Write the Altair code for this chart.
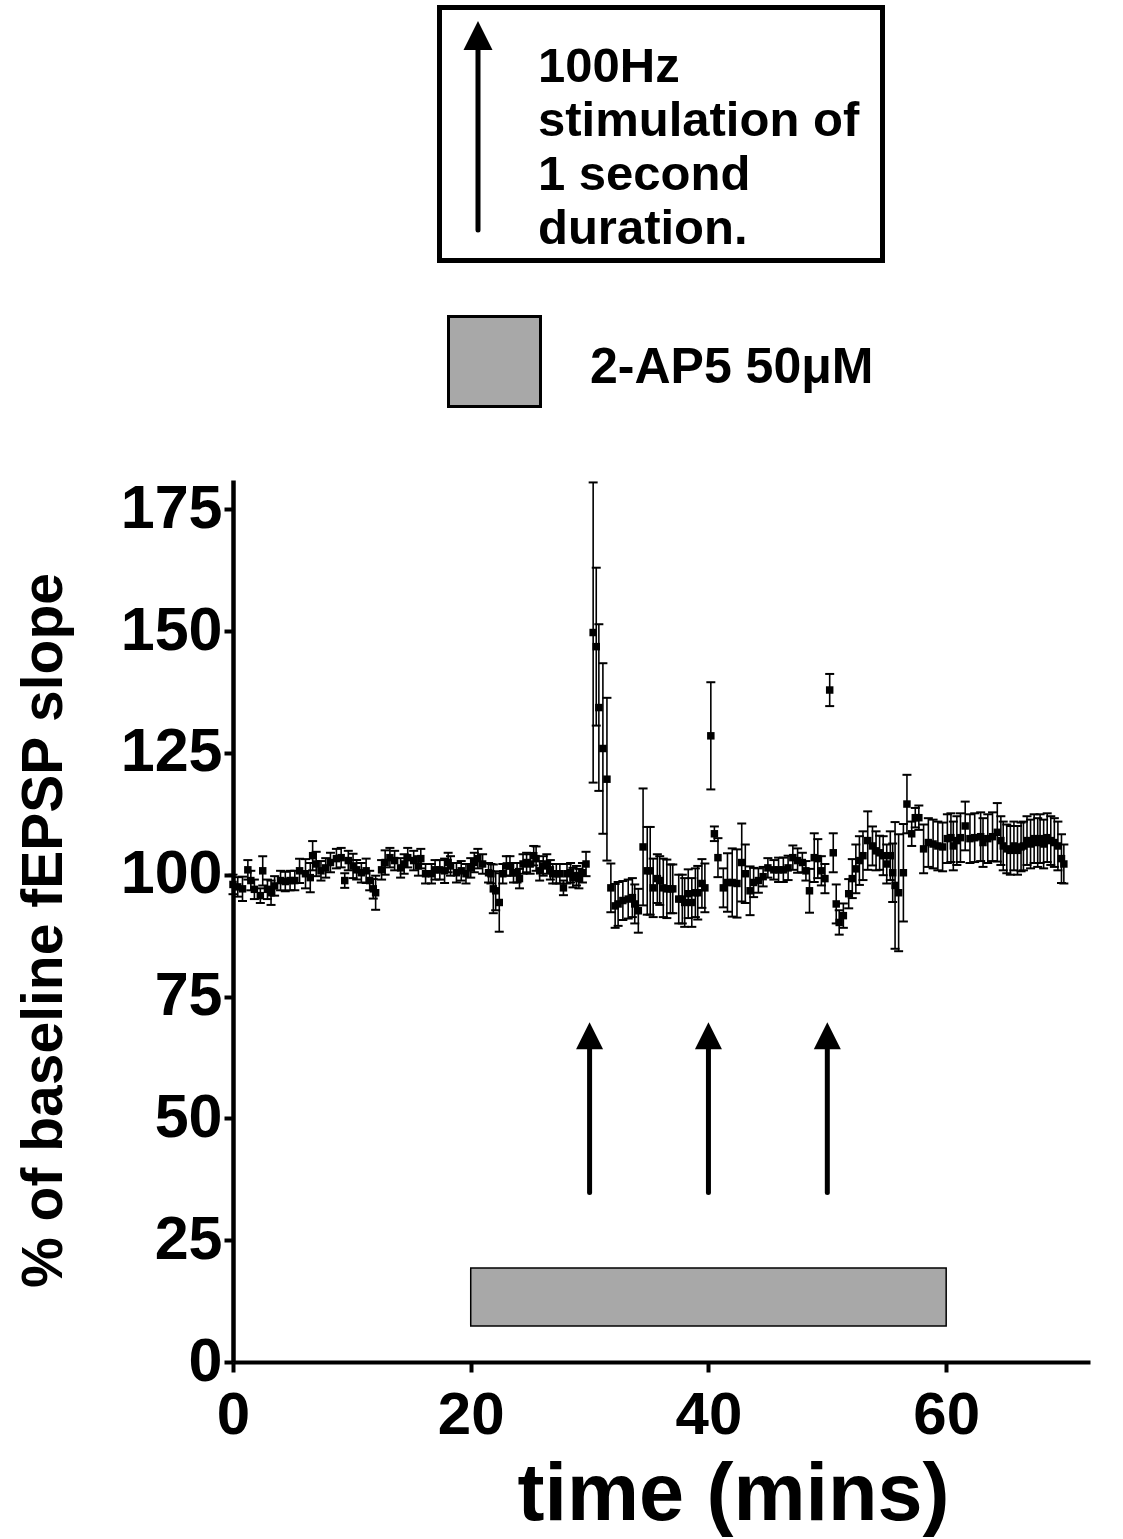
import altair as alt
import pandas as pd

# ---- data (time in min, % of baseline, SEM) ----
time_min = [
    0.0, 0.4, 0.8, 1.25, 1.5, 1.8, 2.3, 2.5, 2.9, 3.2, 3.5, 4.0, 4.4, 4.8, 5.2, 5.6, 6.1, 6.5, 6.7, 7.0, 7.4, 7.8, 8.2, 8.7, 9.1, 9.4, 9.7,
    10.1, 10.4, 10.8, 11.2, 11.5, 11.8, 12.0, 12.5, 12.8, 13.2, 13.6, 14.1, 14.4, 14.7, 15.2, 15.6, 15.8, 16.2, 16.7, 17.0, 17.4, 17.8, 18.1, 18.3, 18.8, 19.2, 19.6,
    20.0, 20.3, 20.6, 21.0, 21.5, 21.7, 21.9, 22.1, 22.4, 22.7, 23.0, 23.3, 23.6, 23.9, 24.1, 24.4, 24.7, 25.0, 25.3, 25.5, 25.8, 26.1, 26.4, 26.7, 26.9, 27.2, 27.5, 27.8, 28.1, 28.4, 28.6, 28.9, 29.1, 29.4, 29.7,
    30.3, 30.56, 30.78, 31.12, 31.46, 31.79, 32.15, 32.4, 32.8, 33.25, 33.6, 33.8, 34.1, 34.5, 34.85, 35.1, 35.35, 35.7, 35.9, 36.2, 36.5, 36.8, 37.0, 37.5, 37.8, 38.0, 38.3, 38.6, 38.9, 39.1, 39.45, 39.7,
    40.2, 40.5, 40.8, 41.25, 41.6, 42.0, 42.4, 42.8, 43.1, 43.5, 43.8, 44.2, 44.6, 45.0, 45.5, 45.9, 46.3, 46.7, 47.1, 47.5, 47.9, 48.2, 48.5, 48.9, 49.2, 49.5, 49.8,
    50.2, 50.5, 50.75, 51.0, 51.35, 51.8, 52.1, 52.4, 52.7, 53.0, 53.4, 53.8, 54.1, 54.4, 54.7, 55.0, 55.3, 55.5, 55.7, 56.0, 56.4, 56.7,
    57.1, 57.4, 57.7, 58.1, 58.5, 58.9, 59.3, 59.7,
    60.1, 60.4, 60.6, 60.9, 61.2, 61.6, 62.0, 62.4, 62.9,
    63.1, 63.5, 63.9, 64.3, 64.6, 64.8,
    65.1, 65.4, 65.7, 66.0, 66.3, 66.5, 66.8,
    67.1, 67.4, 67.7, 67.9, 68.2, 68.5, 68.8,
    69.1, 69.4, 69.7, 69.9,
]
slope_pct = [
    98.0, 97.5, 97.1, 101.0, 98.8, 97.0, 95.7, 100.8, 97.0, 96.3, 97.7, 98.8, 98.6, 98.8, 98.8, 100.8, 100.2, 99.4, 103.9, 102.2, 100.8, 101.4, 102.5, 103.3, 103.5, 98.8, 102.9,
    101.8, 101.0, 100.4, 100.8, 98.8, 97.1, 96.3, 101.0, 102.5, 103.5, 102.9, 101.4, 102.2, 103.5, 102.9, 101.8, 103.3, 100.2, 100.2, 101.0, 101.0, 100.8, 102.5, 101.8, 100.4, 100.8, 100.2,
    101.4, 102.5, 103.3, 102.2, 100.4, 100.2, 97.1, 96.7, 94.3, 100.2, 101.8, 101.8, 100.4, 100.4, 99.2, 102.2, 102.5, 102.2, 103.9, 103.3, 100.8, 101.8, 102.2, 101.0, 100.2, 100.2, 100.2, 97.3, 100.2, 100.4, 99.4, 99.8, 99.2, 100.4, 102.2,
    149.7, 146.8, 134.3, 125.9, 119.6, 97.3, 93.6, 94.0, 94.7, 95.0, 95.3, 94.0, 92.6, 105.7, 100.8, 100.8, 97.3, 99.2, 98.8, 97.3, 97.1, 97.1, 97.1, 95.0, 95.0, 94.3, 96.1, 94.3, 96.3, 96.3, 98.2, 97.3,
    128.5, 108.4, 103.5, 97.3, 98.4, 98.4, 98.2, 102.5, 100.2, 96.7, 98.4, 98.8, 99.6, 101.4, 101.0, 101.0, 101.0, 101.4, 103.5, 102.9, 102.5, 100.8, 96.7, 103.5, 103.3, 100.8, 99.2,
    137.9, 104.5, 94.0, 90.2, 91.6, 96.1, 99.2, 101.2, 102.9, 103.9, 107.0, 105.9, 104.9, 104.5, 103.9, 102.2, 103.9, 100.4, 97.8, 96.3, 100.4, 114.5,
    108.4, 111.7, 111.7, 105.3, 106.6, 106.3, 105.9, 105.7,
    107.4, 107.6, 105.9, 107.0, 107.6, 110.0, 107.4, 107.6, 107.8,
    106.6, 107.4, 107.8, 108.7, 107.0, 105.9,
    105.3, 105.0, 105.9, 105.0, 105.7, 105.9, 107.0,
    106.3, 107.4, 106.6, 107.4, 106.3, 107.6, 107.0,
    106.6, 105.9, 103.3, 102.2,
]
sem_pct = [
    2, 2, 2.5, 2, 2, 2, 1.5, 3, 2, 2.5, 2, 2, 2, 2, 2, 2.5, 3, 3, 3, 2.5, 2, 2, 2, 2, 2, 1.5, 2,
    2.5, 2, 2, 2.5, 2, 2, 3.5, 2, 2.5, 2, 2, 2, 2, 2, 2, 2, 2, 2, 2, 2, 2, 2.5, 2, 2, 2, 2, 2,
    2, 2, 2, 2, 2, 2, 5, 4, 6, 2, 2, 2, 2, 2, 2, 2, 2, 2, 2, 2.5, 2, 2, 2, 2, 2, 2, 2, 1.5, 2, 2, 2, 2, 2, 2, 2.5,
    30.8, 16.2, 17.1, 17.5, 16.7, 5, 4.5, 4.5, 4, 4, 4, 4, 4.5, 12, 9, 9, 6, 5, 5, 6, 6, 5, 5, 5, 5, 5, 5, 5, 5, 5.5, 5, 5,
    11, 1.5, 4, 4, 6, 7, 7, 8, 6, 5, 3, 2.5, 2, 2, 2, 2.5, 2.5, 2.5, 2.5, 2.5, 2, 2, 4.5, 5, 4, 3, 3,
    3.3, 4, 4, 2.5, 2.5, 3, 4, 5, 5, 5, 6, 4, 4, 3.5, 4, 4, 5, 6, 13, 12, 10, 6,
    2.5, 2, 2.5, 5, 5, 5, 5, 5,
    5, 5, 5, 5, 5, 5, 5, 5, 5,
    5, 5, 5, 6, 5, 5,
    5, 5, 5, 5, 5, 5, 5,
    5, 5, 5, 5, 5, 5, 5,
    5, 5, 5, 4,
]
assert len(time_min) == len(slope_pct) == len(sem_pct)

stim_times = [30, 40, 50]          # 100 Hz tetani
arrow_bottom, arrow_head_base, arrow_tip = 34.8, 65.0, 69.7
drug_window = [20, 60]             # 2-AP5 application
drug_bar = [7.4, 19.3]

x_ticks = [0, 20, 40, 60]
y_ticks = [0, 25, 50, 75, 100, 125, 150, 175]

legend_lines = ["100Hz", "stimulation of", "1 second", "duration."]
drug_label = "2-AP5 50\u03bcM"

FONT = "Liberation Sans"
GRAY = "#a8a8a8"
HEAD = "M0,0L1,2L-1,2Z"

# plot-area placement on the 1123x1539 page
L, T, W, H = 233, 480, 857, 882

df = pd.DataFrame({"t": time_min, "v": slope_pct, "e": sem_pct})
df["lo"] = df["v"] - df["e"]
df["hi"] = df["v"] + df["e"]

xs = alt.Scale(domain=[0, 72.1], nice=False, zero=False)
ys = alt.Scale(domain=[0, 181], nice=False, zero=False)

x_axis = alt.Axis(values=x_ticks, title="time (mins)", grid=False, labelFlush=False,
                  labelFont=FONT, labelFontSize=60, labelFontWeight="bold", labelColor="black",
                  labelPadding=14, tickSize=10, tickWidth=4, tickColor="black",
                  domainWidth=4, domainColor="black",
                  titleFont=FONT, titleFontSize=81, titleFontWeight="bold", titleColor="black",
                  titleX=500, titleY=157, titleBaseline="alphabetic", titleAlign="center")
y_axis = alt.Axis(values=y_ticks, title="% of baseline fEPSP slope", grid=False,
                  labelFont=FONT, labelFontSize=61, labelFontWeight="bold", labelColor="black",
                  labelPadding=2, tickSize=9, tickWidth=4, tickColor="black",
                  domainWidth=4.5, domainColor="black",
                  titleFont=FONT, titleFontSize=57, titleFontWeight="bold", titleColor="black",
                  titleAngle=-90, titleX=-172, titleY=450, titleBaseline="alphabetic", titleAlign="center")

base = alt.Chart(df)

drug_df = pd.DataFrame({"x": [drug_window[0]], "x2": [drug_window[1]], "y": [drug_bar[0]], "y2": [drug_bar[1]]})
drug = alt.Chart(drug_df).mark_rect(fill=GRAY, stroke="black", strokeWidth=1.5).encode(
    x=alt.X("x:Q", scale=xs, axis=x_axis), x2="x2:Q",
    y=alt.Y("y:Q", scale=ys, axis=y_axis), y2="y2:Q")

err = base.mark_rule(color="black", strokeWidth=1.6).encode(
    x=alt.X("t:Q", scale=xs), y=alt.Y("lo:Q", scale=ys), y2="hi:Q")
cap_lo = base.mark_tick(orient="horizontal", size=9, thickness=2, color="black", opacity=1).encode(
    x=alt.X("t:Q", scale=xs), y=alt.Y("lo:Q", scale=ys))
cap_hi = base.mark_tick(orient="horizontal", size=9, thickness=2, color="black", opacity=1).encode(
    x=alt.X("t:Q", scale=xs), y=alt.Y("hi:Q", scale=ys))
pts = base.mark_square(size=56, color="black", opacity=1, filled=True).encode(
    x=alt.X("t:Q", scale=xs), y=alt.Y("v:Q", scale=ys))

arr_df = pd.DataFrame({"t": stim_times, "lo": [arrow_bottom] * 3, "hi": [arrow_head_base] * 3,
                       "tip": [arrow_tip] * 3})
shafts = alt.Chart(arr_df).mark_rule(color="black", strokeWidth=5, strokeCap="round").encode(
    x=alt.X("t:Q", scale=xs), y=alt.Y("lo:Q", scale=ys), y2="hi:Q")
heads = alt.Chart(arr_df).mark_point(shape=HEAD, size=729, filled=True, fill="black",
                                     strokeWidth=0, opacity=1).encode(
    x=alt.X("t:Q", scale=xs), y=alt.Y("tip:Q", scale=ys))

# ---- legend (above the plot area, in pixel offsets) ----
one = pd.DataFrame({"k": [0]})
leg_box = alt.Chart(one).mark_rect(fill="white", stroke="black", strokeWidth=5).encode(
    x=alt.value(439.5 - L), x2=alt.value(882.5 - L), y=alt.value(7.5 - T), y2=alt.value(260.5 - T))
leg_shaft = alt.Chart(one).mark_rule(color="black", strokeWidth=5, strokeCap="round").encode(
    x=alt.value(478 - L), y=alt.value(230 - T), y2=alt.value(44 - T))
leg_head = alt.Chart(one).mark_point(shape=HEAD, size=841, filled=True, fill="black",
                                     strokeWidth=0, opacity=1).encode(
    x=alt.value(478 - L), y=alt.value(21 - T))
leg_text = alt.Chart(one).mark_text(text=legend_lines, lineHeight=54, align="left", baseline="alphabetic",
                                    font=FONT, fontSize=49, fontWeight="bold", color="black").encode(
    x=alt.value(538 - L), y=alt.value(82 - T))
leg_sq = alt.Chart(one).mark_rect(fill=GRAY, stroke="black", strokeWidth=3).encode(
    x=alt.value(448.5 - L), x2=alt.value(540.5 - L), y=alt.value(316.5 - T), y2=alt.value(406.5 - T))
leg_drug = alt.Chart(one).mark_text(text=drug_label, align="left", baseline="alphabetic",
                                    font=FONT, fontSize=50, fontWeight="bold", color="black").encode(
    x=alt.value(590 - L), y=alt.value(383 - T))

chart = alt.layer(drug, err, cap_lo, cap_hi, pts, shafts, heads,
                  leg_box, leg_shaft, leg_head, leg_text, leg_sq, leg_drug).properties(
    width=W, height=H,
    autosize=alt.AutoSizeParams(type="none"),
    padding={"left": L, "top": T, "right": 1123 - L - W, "bottom": 1539 - T - H},
    background="white",
).configure_view(stroke="transparent")

chart.save("out.html", embed_options={"renderer": "svg", "actions": False})
